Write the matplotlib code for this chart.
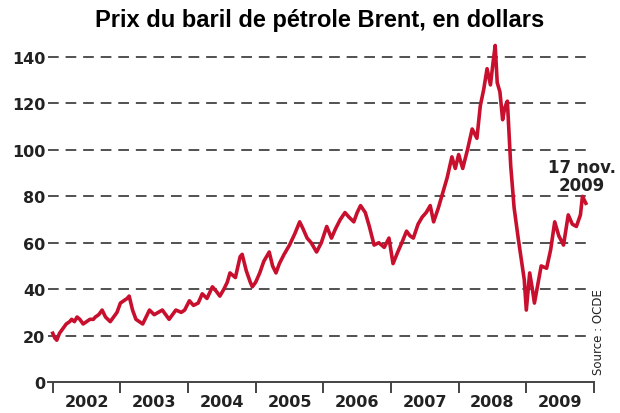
import matplotlib.pyplot as plt

# Prix du Brent (lecture approximative sur le graphique)
annees = [2002.00, 2002.03, 2002.06, 2002.10, 2002.15, 2002.20, 2002.25, 2002.28, 2002.32, 2002.36,
          2002.40, 2002.45, 2002.50, 2002.55, 2002.60, 2002.63, 2002.68, 2002.73, 2002.78, 2002.85,
          2002.90, 2002.95, 2003.00, 2003.05, 2003.10, 2003.13, 2003.18, 2003.23, 2003.28, 2003.33,
          2003.38, 2003.43, 2003.50, 2003.56, 2003.62, 2003.67, 2003.72, 2003.77, 2003.82, 2003.90,
          2003.95, 2004.02, 2004.08, 2004.15, 2004.21, 2004.28, 2004.36, 2004.42, 2004.47, 2004.53,
          2004.58, 2004.62, 2004.70, 2004.77, 2004.80, 2004.86, 2004.92, 2004.95, 2005.00, 2005.06,
          2005.12, 2005.20, 2005.25, 2005.30, 2005.35, 2005.42, 2005.50, 2005.58, 2005.65, 2005.70,
          2005.76, 2005.82, 2005.90, 2005.97, 2006.05, 2006.12, 2006.18, 2006.25, 2006.32, 2006.38,
          2006.45, 2006.50, 2006.55, 2006.62, 2006.68, 2006.75, 2006.82, 2006.90, 2006.97, 2007.03,
          2007.10, 2007.16, 2007.23, 2007.28, 2007.33, 2007.40, 2007.46, 2007.52, 2007.58, 2007.63,
          2007.70, 2007.77, 2007.83, 2007.90, 2007.95, 2008.00, 2008.06, 2008.13, 2008.20, 2008.27,
          2008.32, 2008.37, 2008.42, 2008.47, 2008.51, 2008.54, 2008.57, 2008.61, 2008.65, 2008.68,
          2008.72, 2008.77, 2008.82, 2008.88, 2008.93, 2008.97, 2009.00, 2009.05, 2009.09, 2009.12,
          2009.17, 2009.22, 2009.30, 2009.36, 2009.42, 2009.48, 2009.55, 2009.62, 2009.68, 2009.74,
          2009.80, 2009.83, 2009.88]
prix = [21, 19, 18, 21, 23, 25, 26, 27, 26, 28,
        27, 25, 26, 27, 27, 28, 29, 31, 28, 26,
        28, 30, 34, 35, 36, 37, 31, 27, 26, 25,
        28, 31, 29, 30, 31, 29, 27, 29, 31, 30,
        31, 35, 33, 34, 38, 36, 41, 39, 37, 40,
        43, 47, 45, 54, 55, 48, 43, 41, 43, 47,
        52, 56, 50, 47, 51, 55, 59, 64, 69, 66,
        62, 60, 56, 60, 67, 62, 66, 70, 73, 71,
        69, 73, 76, 73, 67, 59, 60, 58, 62, 51,
        56, 60, 65, 63, 62, 68, 71, 73, 76, 69,
        75, 82, 88, 97, 92, 98, 92, 100, 109, 105,
        119, 126, 135, 128, 138, 145, 129, 125, 113, 118,
        121, 93, 75, 62, 52, 44, 31, 47, 40, 34,
        42, 50, 49, 57, 69, 63, 59, 72, 68, 67,
        72, 80, 77]

graduations = [0, 20, 40, 60, 80, 100, 120, 140]
ans_labels = ['2002', '2003', '2004', '2005', '2006', '2007', '2008', '2009']

plt.rcParams['font.family'] = ['DejaVu Sans']

fig = plt.figure(figsize=(6.2, 4.14), dpi=100)
ax = fig.add_axes([0.0774, 0.0749, 0.8806, 0.8297])

for g in graduations[1:]:
    ax.plot([2001.93, 2009.9], [g, g], color='#222222', lw=1.1, dashes=(7, 4.5), zorder=1)

ax.plot(annees, prix, color='#c8102e', lw=2.6, zorder=3)

ax.set_xlim(2001.93, 2010.0)
ax.set_ylim(0, 148)

for s in ['top', 'right', 'left']:
    ax.spines[s].set_visible(False)
ax.spines['bottom'].set_color('#444444')
ax.spines['bottom'].set_linewidth(1.4)

ax.set_yticks(graduations)
ax.set_yticklabels([str(g) for g in graduations], fontsize=11.5, fontweight='bold', color='#222222')
ax.tick_params(axis='y', length=0, pad=2)

ax.set_xticks(range(2002, 2011))
ax.set_xticklabels([])
ax.tick_params(axis='x', which='major', length=8, width=1.4, color='#444444', direction='out')
ax.set_xticks([y + 0.5 for y in range(2002, 2010)], minor=True)
ax.set_xticklabels(ans_labels, minor=True, fontsize=11.5, fontweight='bold', color='#222222')
ax.tick_params(axis='x', which='minor', length=0, pad=9)

fig.text(0.515, 0.950, 'Prix du baril de pétrole Brent, en dollars', ha='center', va='center',
         fontsize=17, fontweight='bold', family='Liberation Sans')
ax.text(2009.82, 81, '17 nov.\n2009', ha='center', va='bottom', fontsize=12, fontweight='bold',
        color='#222222', linespacing=1.0)
fig.text(0.966, 0.198, 'Source : OCDE', rotation=90, ha='center', va='center', fontsize=8.5,
         color='#222222', family='Liberation Sans Narrow')

plt.savefig('out.png', dpi=100)
plt.close()
